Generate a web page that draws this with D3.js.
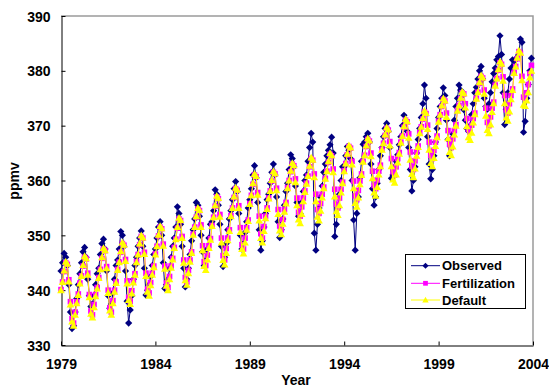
<!DOCTYPE html>
<html>
<head>
<meta charset="utf-8">
<script src="https://cdn.jsdelivr.net/npm/d3@7"></script>
<style>
  html, body { margin: 0; padding: 0; background: #fff; }
  svg { display: block; }
  text { font-family: "Liberation Sans", Arial, sans-serif; font-weight: bold; fill: #000; }
</style>
</head>
<body>
<svg id="chart" width="549" height="389"></svg>
<script>
// ---------------- data (monthly, Jan 1979 .. Dec 2003) ----------------
const startYear = 1979;
const seriesNames = ["Observed", "Fertilization", "Default"];
const xTicks = [1979, 1984, 1989, 1994, 1999, 2004];
const yTicks = [330, 340, 350, 360, 370, 380, 390];

const observed = [
  343.5, 345, 346.7, 346, 344.5, 341, 336, 333, 333.5, 336, 338.5, 341,
  343, 345, 347, 347.8, 346, 342, 339, 337, 337.5, 339, 341, 343,
  344, 346.5, 348.5, 349.3, 347.5, 343.5, 339, 336.7, 337.5, 339.5, 342, 344.5,
  345.5, 347.5, 350.7, 350, 348, 343.5, 338, 334, 336.4, 339, 342, 344.5,
  346, 348, 349.5, 350.8, 348, 344, 339.1, 340, 341, 342.5, 344.5, 346.5,
  347.5, 349.5, 351.5, 352.5, 350, 345, 340.3, 341, 342, 344, 346, 348,
  349.5, 351.5, 355.2, 354, 352, 348, 344, 340.6, 342, 344, 346.5, 349,
  351, 353, 356, 355.5, 353.5, 350, 347, 344.5, 345.5, 347.5, 349.5, 352,
  352.5, 354.5, 358.3, 357.5, 355.5, 352, 348, 344.3, 346, 348.5, 351, 353,
  354.5, 356.5, 358.5, 359.8, 358, 354, 350, 347.5, 348.5, 350.5, 352.5, 355,
  356.5, 358.5, 361, 362.7, 360.5, 356, 351, 347.3, 349, 351.5, 354, 356.5,
  357.5, 359.5, 361.5, 363, 361, 357, 352.5, 349.6, 351, 353, 355.5, 358,
  359.5, 362, 364.7, 364, 362.5, 359, 356, 353.5, 354, 356, 358, 360,
  361, 363.5, 366, 368.6, 367, 350.4, 347.3, 352, 355, 357, 359, 361.5,
  363, 364.5, 365.5, 366.5, 367.9, 365, 349.8, 352, 355, 357.5, 360, 362.5,
  362.5, 364.5, 366.2, 365.5, 364, 360, 352.8, 347.3, 354, 357, 360.5, 363.5,
  366.6, 367, 368, 368.6, 367, 363, 358.5, 355.5, 357, 359.5, 362, 364.5,
  366, 368, 369.5, 370.4, 369, 366, 360.4, 361, 362.5, 363.5, 364.7, 366.5,
  368, 370, 371.9, 371, 369, 366, 362, 358.1, 360, 362.5, 365, 367.5,
  369.5, 371.5, 374, 377.4, 375, 368, 363, 360.3, 362, 364.5, 367, 369.5,
  371.5, 373.5, 375, 376.9, 375.5, 371, 367.5, 364.5, 366, 368.5, 371, 373.5,
  375, 377.4, 376.5, 375.5, 372.9, 371, 369.5, 369, 370, 372, 374, 376,
  377, 378.5, 380, 380.8, 378.5, 375, 373.5, 373, 374, 376, 378, 379.5,
  380.5, 382, 382.6, 386.4, 383, 376, 370.2, 373, 376, 378.5, 380.5, 382,
  381, 382, 382.5, 383, 385.8, 385.2, 368.8, 370.8, 375, 377.5, 380, 382.3
];

const fertilization = [
  340.1, 341.5, 343.4, 345, 344.7, 341.9, 337.9, 334.8, 334, 336, 337.9, 339.3,
  341.3, 342.6, 344.4, 346, 345.7, 343.1, 339.2, 336.2, 335.5, 337.4, 339.2, 340.5,
  342.3, 343.8, 345.8, 347.5, 347.2, 344.3, 340, 336.8, 336, 338.1, 340, 341.5,
  343.8, 345.1, 346.9, 348.5, 348.2, 345.6, 341.7, 338.7, 338, 339.9, 341.7, 343,
  345.2, 346.5, 348.3, 349.8, 349.5, 346.9, 343.1, 340.2, 339.5, 341.4, 343.1, 344.4,
  346.6, 348, 349.9, 351.5, 351.2, 348.4, 344.4, 341.3, 340.5, 342.5, 344.4, 345.8,
  347.8, 349.3, 351.3, 353, 352.7, 349.8, 345.5, 342.3, 341.5, 343.6, 345.5, 347,
  350.2, 351.5, 353.3, 354.8, 354.5, 351.9, 348.1, 345.2, 344.5, 346.4, 348.1, 349.4,
  351.8, 353.3, 355.3, 357, 356.7, 353.8, 349.5, 346.3, 345.5, 347.6, 349.5, 351,
  353.6, 355, 356.9, 358.5, 358.2, 355.4, 351.4, 348.3, 347.5, 349.5, 351.4, 352.8,
  355.8, 357.3, 359.3, 361, 360.7, 357.8, 353.5, 350.3, 349.5, 351.6, 353.5, 355,
  356.8, 358.1, 359.9, 361.5, 361.2, 358.6, 354.7, 351.7, 351, 352.9, 354.7, 356,
  358.7, 360, 361.6, 363, 362.7, 360.3, 356.8, 354.2, 353.5, 355.2, 356.8, 358.1,
  359.5, 360.8, 362.5, 364, 363.7, 361.2, 357.5, 354.7, 354, 355.8, 357.5, 358.8,
  360.4, 361.7, 363.3, 364.8, 364.5, 362.1, 358.4, 355.7, 355, 356.8, 358.4, 359.7,
  361.8, 363.1, 364.7, 366.2, 365.9, 363.5, 359.9, 357.2, 356.5, 358.2, 359.9, 361.2,
  363.5, 364.6, 366.2, 367.5, 367.2, 365, 361.7, 359.1, 358.5, 360.1, 361.7, 362.8,
  365.7, 366.8, 368.2, 369.5, 369.2, 367.1, 364, 361.6, 361, 362.5, 364, 365.1,
  367, 368.1, 369.7, 371, 370.7, 368.5, 365.2, 362.6, 362, 363.6, 365.2, 366.3,
  368.7, 369.8, 371.2, 372.5, 372.2, 370.1, 367, 364.6, 364, 365.5, 367, 368.1,
  370.8, 372, 373.5, 374.8, 374.5, 372.3, 369.1, 366.6, 366, 367.6, 369.1, 370.2,
  372.8, 373.7, 374.9, 376, 375.8, 374, 371.3, 369.3, 368.8, 370.1, 371.3, 372.3,
  375, 376.1, 377.7, 379, 378.7, 376.5, 373.2, 370.6, 370, 371.6, 373.2, 374.3,
  377.4, 378.6, 380.1, 381.5, 381.2, 378.9, 375.5, 372.9, 372.3, 374, 375.5, 376.7,
  379.7, 380.8, 382.2, 383.5, 383.2, 379, 375.2, 375, 376, 377.5, 379.5, 381
];

const defaultRun = [
  340.0, 341.5, 343.6, 345.2, 344.8, 341.6, 337.4, 334.3, 333.5, 335.5, 337.6, 339.1,
  341.2, 342.6, 344.6, 346.2, 345.8, 342.8, 338.7, 335.7, 335.0, 336.9, 338.9, 340.3,
  342.2, 343.8, 346.0, 347.7, 347.3, 344.0, 339.5, 336.3, 335.5, 337.6, 339.7, 341.3,
  343.7, 345.1, 347.1, 348.7, 348.3, 345.3, 341.2, 338.2, 337.5, 339.4, 341.4, 342.8,
  345.1, 346.5, 348.5, 350.0, 349.6, 346.6, 342.6, 339.7, 339.0, 340.9, 342.8, 344.2,
  346.5, 348.0, 350.1, 351.7, 351.3, 348.1, 343.9, 340.8, 340.0, 342.0, 344.1, 345.6,
  347.7, 349.3, 351.5, 353.2, 352.8, 349.5, 345.0, 341.8, 341.0, 343.1, 345.2, 346.8,
  350.1, 351.5, 353.5, 355.0, 354.6, 351.5, 347.3, 344.4, 343.7, 345.6, 347.7, 349.2,
  351.7, 353.3, 355.5, 357.2, 356.8, 353.4, 348.7, 345.5, 344.7, 346.8, 349.1, 350.8,
  353.5, 355.0, 357.1, 358.7, 358.3, 355.0, 350.6, 347.5, 346.7, 348.7, 351.0, 352.6,
  355.7, 357.3, 359.5, 361.2, 360.8, 357.4, 352.7, 349.5, 348.7, 350.8, 353.1, 354.8,
  356.7, 358.1, 360.1, 361.7, 361.3, 358.2, 353.9, 350.9, 350.2, 352.1, 354.3, 355.8,
  358.6, 360.0, 361.8, 363.2, 362.8, 359.7, 355.5, 352.9, 352.2, 353.9, 356.2, 357.9,
  359.4, 360.8, 362.7, 364.2, 363.8, 360.6, 356.2, 353.4, 352.7, 354.5, 356.9, 358.6,
  360.3, 361.7, 363.5, 365.0, 364.6, 361.5, 357.1, 354.4, 353.7, 355.5, 357.8, 359.5,
  361.7, 363.1, 364.9, 366.4, 366.0, 362.9, 358.6, 355.9, 355.2, 356.9, 359.3, 361.0,
  363.4, 364.6, 366.4, 367.7, 367.3, 364.4, 360.4, 357.8, 357.2, 358.8, 361.1, 362.6,
  365.6, 366.8, 368.4, 369.7, 369.3, 366.4, 362.6, 360.2, 359.6, 361.1, 363.3, 364.9,
  366.9, 368.1, 369.9, 371.2, 370.8, 367.8, 363.8, 361.2, 360.6, 362.2, 364.5, 366.1,
  368.6, 369.8, 371.4, 372.7, 372.3, 369.4, 365.6, 363.2, 362.6, 364.1, 366.3, 367.9,
  370.7, 372.0, 373.7, 375.0, 374.6, 371.6, 367.7, 365.2, 364.6, 366.2, 368.4, 370.0,
  372.7, 373.7, 375.1, 376.2, 375.9, 373.3, 369.9, 367.9, 367.4, 368.7, 370.6, 372.1,
  374.9, 376.1, 377.9, 379.2, 378.8, 375.8, 371.8, 369.2, 368.6, 370.2, 372.5, 374.1,
  377.3, 378.6, 380.3, 381.7, 381.3, 378.2, 374.1, 371.5, 370.9, 372.6, 374.8, 376.5,
  379.6, 380.8, 382.4, 383.7, 383.3, 378.3, 373.8, 373.6, 374.6, 376.1, 378.8, 380.0
];

// ---------------- layout ----------------
const svg = d3.select("#chart");
const plot = { left: 61, right: 533, top: 16, bottom: 345 };

const x = d3.scaleLinear().domain([1979, 2004]).range([plot.left, plot.right]);
const y = d3.scaleLinear().domain([330, 390]).range([plot.bottom, plot.top]);

// plot frame (grey top/right)
svg.append("path")
  .attr("d", `M${plot.left},${plot.top}H${plot.right}V${plot.bottom}`)
  .attr("fill", "none").attr("stroke", "#9a9a9a").attr("stroke-width", 1.5);

// axes
const xAxis = d3.axisBottom(x).tickValues(xTicks).tickFormat(d3.format("d"))
  .tickSizeInner(-4).tickSizeOuter(0).tickPadding(14);
const yAxis = d3.axisLeft(y).tickValues(yTicks).tickFormat(d3.format("d"))
  .tickSizeInner(-4).tickSizeOuter(0).tickPadding(11);

const gx = svg.append("g").attr("transform", `translate(0,${plot.bottom + 0.5})`).call(xAxis);
const gy = svg.append("g").attr("transform", `translate(${plot.left + 0.5},0)`).call(yAxis);
[gx, gy].forEach(g => {
  g.select(".domain").attr("stroke", "#000").attr("stroke-width", 1);
  g.selectAll(".tick line").attr("stroke", "#000");
  g.selectAll(".tick text").attr("font-size", 14).attr("font-weight", "bold")
    .attr("font-family", "'Liberation Sans', Arial, sans-serif").attr("fill", "#000");
});
gy.selectAll(".tick text").attr("dy", "0.36em");

// axis titles
svg.append("text").attr("x", 296).attr("y", 385).attr("text-anchor", "middle")
  .attr("font-size", 14).text("Year");
svg.append("text").attr("transform", "translate(19,181) rotate(-90)")
  .attr("text-anchor", "middle").attr("font-size", 14).text("ppmv");

// marker shapes
const markerPath = {
  Observed: "M0,-3.6L3.6,0L0,3.6L-3.6,0Z",
  Fertilization: "M-2.8,-2.8H2.8V2.8H-2.8Z",
  Default: "M0,-3.8L3.8,3H-3.8Z"
};
const colors = { Observed: "#000080", Fertilization: "#FF00FF", Default: "#FFFF00" };
const seriesData = { Observed: observed, Fertilization: fertilization, Default: defaultRun };

const line = d3.line().x(d => x(d.t)).y(d => y(d.v));

svg.append("clipPath").attr("id", "clip").append("rect")
  .attr("x", plot.left - 5).attr("y", plot.top - 5)
  .attr("width", plot.right - plot.left + 10).attr("height", plot.bottom - plot.top + 5);

seriesNames.forEach(name => {
  const pts = seriesData[name].map((v, i) => ({ t: startYear + i / 12, v }));
  const g = svg.append("g").attr("clip-path", "url(#clip)");
  g.append("path").datum(pts).attr("d", line)
    .attr("fill", "none").attr("stroke", colors[name]).attr("stroke-width", 1);
  g.selectAll("path.m").data(pts).enter().append("path").attr("class", "m")
    .attr("d", markerPath[name])
    .attr("transform", d => `translate(${x(d.t)},${y(d.v)})`)
    .attr("fill", colors[name]);
});

// legend
const lg = svg.append("g");
lg.append("rect").attr("x", 405.5).attr("y", 254.5).attr("width", 120).attr("height", 54)
  .attr("fill", "#fff").attr("stroke", "#000").attr("stroke-width", 1);
const rows = [265.7, 283.3, 300];
seriesNames.forEach((name, i) => {
  const yy = rows[i];
  lg.append("line").attr("x1", 411).attr("x2", 440).attr("y1", yy).attr("y2", yy)
    .attr("stroke", colors[name]).attr("stroke-width", 1);
  lg.append("path").attr("d", markerPath[name])
    .attr("transform", `translate(425.5,${yy}) scale(0.85)`).attr("fill", colors[name]);
  lg.append("text").attr("x", 442).attr("y", yy).attr("dy", "0.36em")
    .attr("font-size", 13).text(name);
});
</script>
</body>
</html>
